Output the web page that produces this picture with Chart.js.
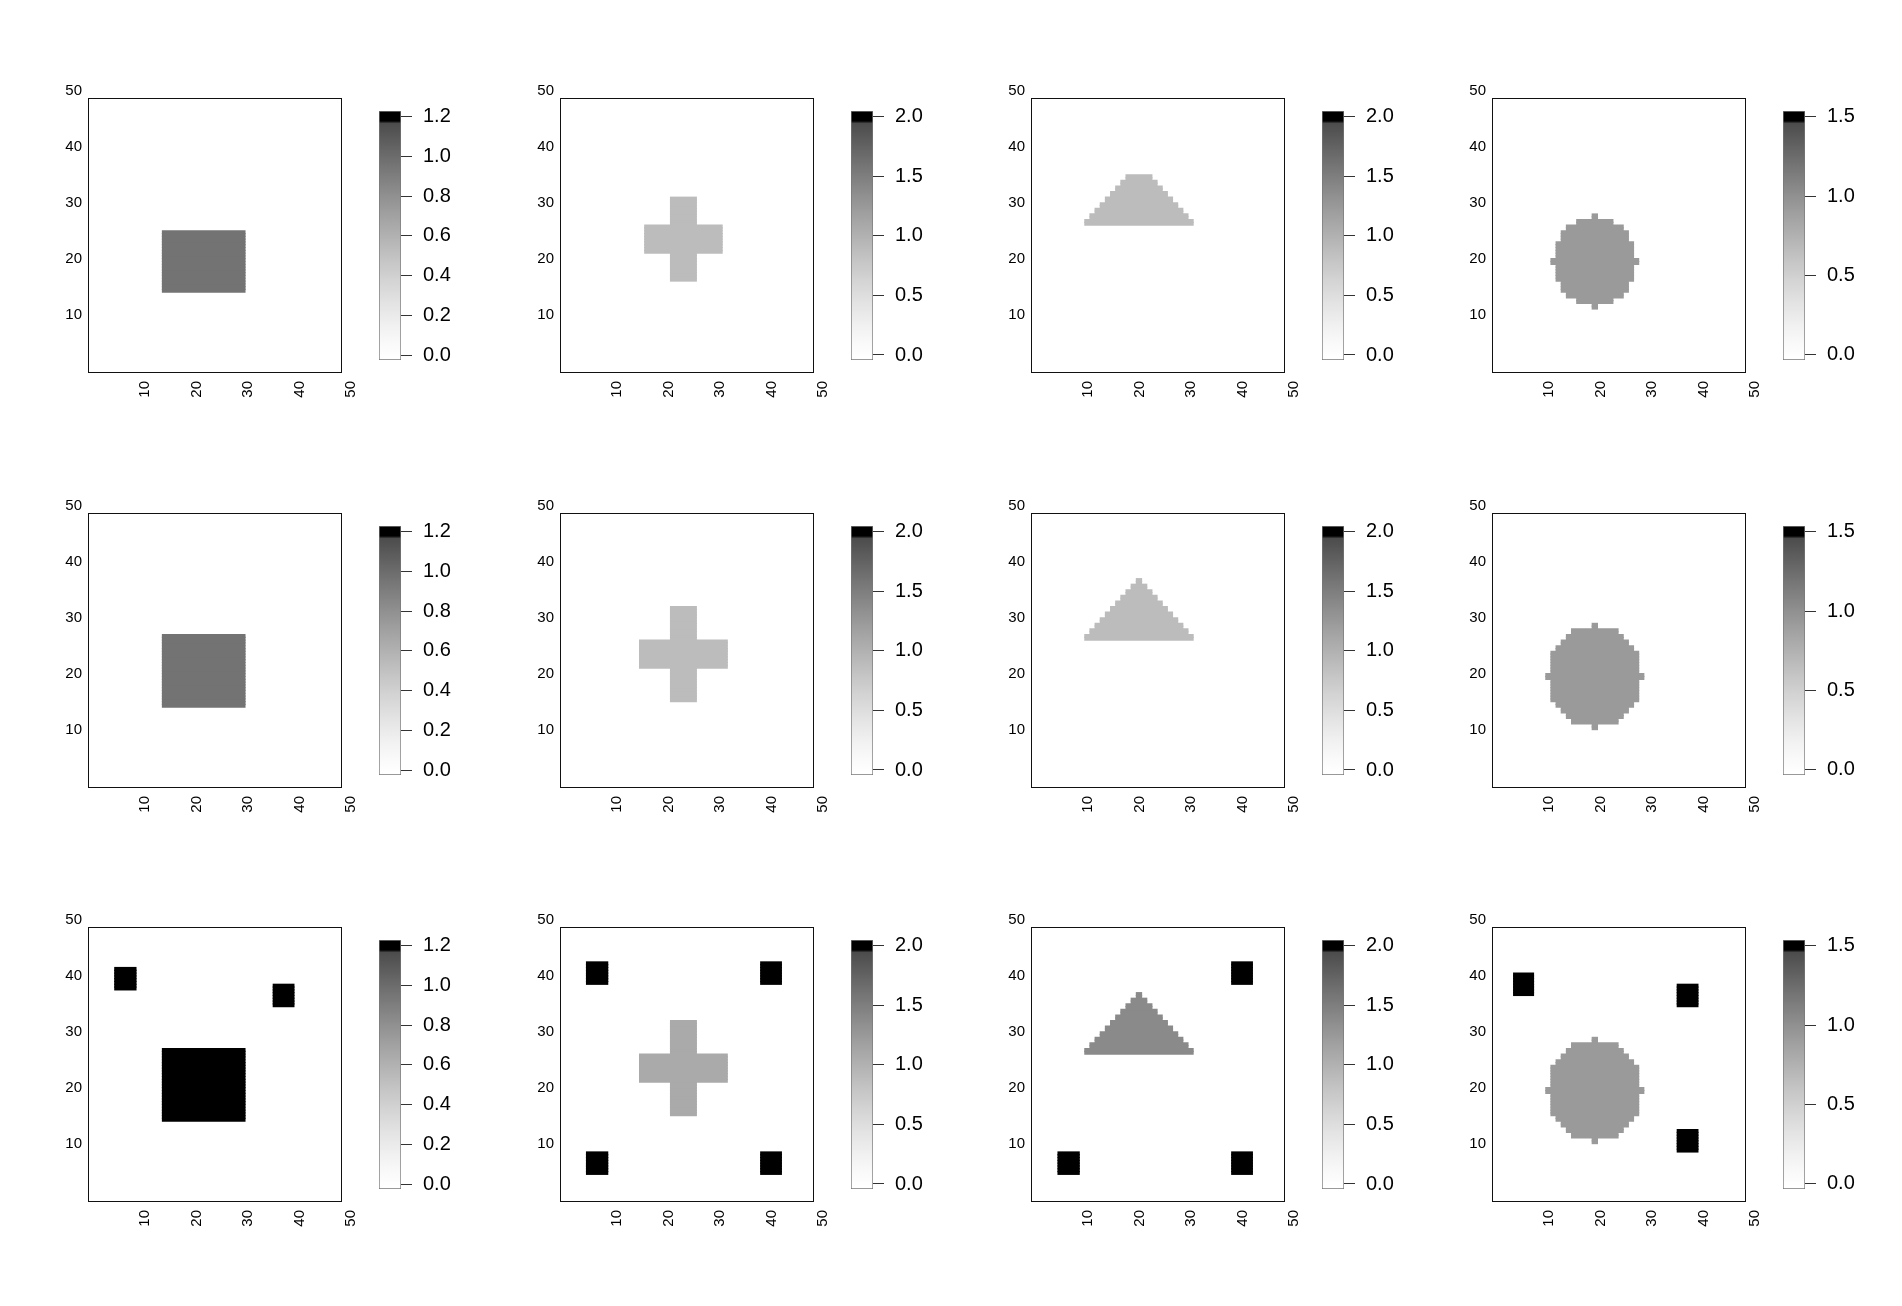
<!DOCTYPE html>
<html>
<head>
<meta charset="utf-8">
<script src="https://cdn.jsdelivr.net/npm/chart.js@4.4.1/dist/chart.umd.min.js"></script>
<style>
  html, body { margin: 0; padding: 0; background: #fff; }
  body { width: 1902px; height: 1306px; position: relative; overflow: hidden; }
  canvas { position: absolute; }
</style>
</head>
<body>
<script>
// ---- data ----
const axisTicks = [10, 20, 30, 40, 50];

// colour scale range and ticks, one per column
const zRange = [[-0.025, 1.228], [-0.042, 2.047], [-0.042, 2.047], [-0.032, 1.535]];
const zTicks = [
  [0, 0.2, 0.4, 0.6, 0.8, 1.0, 1.2],
  [0, 0.5, 1.0, 1.5, 2.0],
  [0, 0.5, 1.0, 1.5, 2.0],
  [0, 0.5, 1.0, 1.5]
];

// rectangles: [x0, x1, y0, y1] (cell edges)
const boxShort = [[14, 30, 14, 25]];
const boxTall = [[14, 30, 14, 27]];
const crossSmall = [[21, 26, 16, 31], [16, 31, 21, 26]];
const crossLarge = [[21, 26, 15, 32], [15, 32, 21, 26]];

// row runs: [y, x0, x1] (one cell tall)
const trapezoidRuns = [[26, 10, 31], [27, 11, 30], [28, 12, 29], [29, 13, 28], [30, 14, 27],
  [31, 15, 26], [32, 16, 25], [33, 17, 24], [34, 18, 23]];
const triangleRuns = [[26, 10, 31], [27, 11, 30], [28, 12, 29], [29, 13, 28], [30, 14, 27],
  [31, 15, 26], [32, 16, 25], [33, 17, 24], [34, 18, 23], [35, 19, 22], [36, 20, 21]];
const discSmallRuns = [[11, 19, 20], [12, 16, 23], [13, 14, 25], [14, 13, 26], [15, 13, 26],
  [16, 12, 27], [17, 12, 27], [18, 12, 27], [19, 11, 28], [20, 12, 27], [21, 12, 27],
  [22, 12, 27], [23, 13, 26], [24, 13, 26], [25, 14, 25], [26, 16, 23], [27, 19, 20]];
const discLargeRuns = [[10, 19, 20], [11, 15, 24], [12, 14, 25], [13, 13, 26], [14, 12, 27],
  [15, 11, 28], [16, 11, 28], [17, 11, 28], [18, 11, 28], [19, 10, 29], [20, 11, 28],
  [21, 11, 28], [22, 11, 28], [23, 11, 28], [24, 12, 27], [25, 13, 26], [26, 14, 25],
  [27, 15, 24], [28, 19, 20]];

// black spots in the bottom row
const spotsC1 = [[4.75, 8.85, 37.5, 41.5], [35.5, 39.5, 34.5, 38.5]];
const spotsC2 = [[4.7, 8.8, 38.5, 42.5], [38.5, 42.5, 38.5, 42.5], [4.7, 8.8, 4.5, 8.5], [38.5, 42.5, 4.5, 8.5]];
const spotsC3 = [[38.5, 42.5, 38.5, 42.5], [4.8, 8.9, 4.5, 8.5], [38.5, 42.5, 4.5, 8.5]];
const spotsC4 = [[3.75, 7.6, 36.5, 40.5], [35.5, 39.5, 34.5, 38.5], [35.5, 39.5, 8.5, 12.5]];

// shape level per panel (rows x columns) and spot level per column
const shapeValues = [
  [0.96, 0.89, 0.89, 0.93],
  [0.96, 0.89, 0.89, 0.93],
  [1.2, 1.08, 1.39, 0.93]
];
const spotValues = [1.2, 2.0, 2.0, 1.5];

const shapes = [
  [{ rects: boxShort }, { rects: crossSmall }, { runs: trapezoidRuns }, { runs: discSmallRuns }],
  [{ rects: boxTall }, { rects: crossLarge }, { runs: triangleRuns }, { runs: discLargeRuns }],
  [{ rects: boxTall, spots: spotsC1 }, { rects: crossLarge, spots: spotsC2 },
   { runs: triangleRuns, spots: spotsC3 }, { runs: discLargeRuns, spots: spotsC4 }]
];

// ---- layout ----
const boxLeft = [88, 560, 1031, 1492];
const boxTop = [98, 513, 927];
const AX_MIN = -0.45, AX_FRAME = 48.8, AX_MAX = 50;
const FONT = "'Liberation Sans', Arial, Helvetica, sans-serif";

function grayFor(t) {
  if (t >= 0.96) return '#000';
  t = Math.max(0, t);
  const g = Math.round(255 * (1 - 0.75 * Math.pow(t, 1.3)));
  return `rgb(${g},${g},${g})`;
}

// split every rectangle into half-cell rows for the horizontal floating bars
function toBars(list, v) {
  const out = [];
  list.forEach(([x0, x1, y0, y1]) => {
    for (let y = y0; y < y1 - 0.01; y += 0.5) out.push({ x: [x0, x1], y: y + 0.25, v: v });
  });
  return out;
}

const framePlugin = {
  id: 'frame',
  afterDatasetsDraw(chart) {
    const { ctx, scales: { x, y } } = chart;
    const l = Math.round(x.getPixelForValue(AX_MIN)) + 0.5;
    const r = Math.round(x.getPixelForValue(AX_FRAME)) - 0.5;
    const t = Math.round(y.getPixelForValue(AX_FRAME)) + 0.5;
    const b = Math.round(y.getPixelForValue(AX_MIN)) - 0.5;
    ctx.save();
    ctx.strokeStyle = '#111';
    ctx.lineWidth = 1;
    ctx.strokeRect(l, t, r - l, b - t);
    ctx.restore();
  }
};

function addCanvas(left, top, w, h) {
  const c = document.createElement('canvas');
  c.width = w; c.height = h;
  c.style.left = left + 'px'; c.style.top = top + 'px';
  c.style.width = w + 'px'; c.style.height = h + 'px';
  document.body.appendChild(c);
  return c;
}

const setAxisTicks = s => { s.ticks = axisTicks.map(v => ({ value: v })); };
const fixX = s => { s.height = 44; s.paddingLeft = 0; s.paddingRight = 0; };
const fixY = w => s => { s.width = w; s.paddingTop = 0; s.paddingBottom = 0; };

shapes.forEach((rowShapes, r) => {
  rowShapes.forEach((shape, c) => {
    const [lo, hi] = zRange[c];
    let bars = [];
    if (shape.rects) bars = bars.concat(toBars(shape.rects, shapeValues[r][c]));
    if (shape.runs) bars = bars.concat(toBars(shape.runs.map(([y, x0, x1]) => [x0, x1, y, y + 1]), shapeValues[r][c]));
    if (shape.spots) bars = bars.concat(toBars(shape.spots, spotValues[c]));

    // image panel
    const canvas = addCanvas(boxLeft[c] - 44, boxTop[r] - 21, 318, 340);
    new Chart(canvas, {
      type: 'bar',
      data: {
        datasets: [{
          data: bars,
          backgroundColor: ctx => grayFor((ctx.raw.v - lo) / (hi - lo)),
          borderWidth: 0,
          inflateAmount: 0.6,
          barPercentage: 1,
          categoryPercentage: 1
        }]
      },
      options: {
        indexAxis: 'y',
        responsive: false,
        animation: false,
        events: [],
        layout: { padding: { top: 14, right: 14, left: 0, bottom: 0 } },
        plugins: { legend: { display: false }, tooltip: { enabled: false } },
        scales: {
          x: {
            type: 'linear', min: AX_MIN, max: AX_MAX,
            afterBuildTicks: setAxisTicks,
            afterFit: fixX,
            grid: { display: false, drawTicks: false },
            border: { display: false },
            ticks: { minRotation: 90, maxRotation: 90, padding: 8, labelOffset: 3, color: '#000',
              font: { family: FONT, size: 15 }, callback: v => String(v) }
          },
          y: {
            type: 'linear', offset: false, min: AX_MIN, max: AX_MAX,
            afterBuildTicks: setAxisTicks,
            afterFit: fixY(44),
            grid: { display: false, drawTicks: false },
            border: { display: false },
            ticks: { padding: 6, color: '#000', font: { family: FONT, size: 15 }, callback: v => String(v) }
          }
        }
      },
      plugins: [framePlugin]
    });

    // colour bar
    const cb = addCanvas(boxLeft[c] + 254 + 37, boxTop[r] + 13 - 14, 92, 277);
    new Chart(cb, {
      type: 'bar',
      data: {
        labels: [''],
        datasets: [{
          data: [[lo, hi]],
          backgroundColor: ctx => {
            const chart = ctx.chart;
            if (!chart.chartArea) return '#ccc';
            const ys = chart.scales.y;
            const grad = chart.ctx.createLinearGradient(0, ys.getPixelForValue(lo), 0, ys.getPixelForValue(hi));
            for (let i = 0; i <= 96; i++) grad.addColorStop(i / 100, grayFor(i / 100));
            grad.addColorStop(0.9605, '#000');
            grad.addColorStop(1, '#000');
            return grad;
          },
          borderColor: '#777',
          borderWidth: 1,
          borderSkipped: false,
          barPercentage: 1,
          categoryPercentage: 1
        }]
      },
      options: {
        responsive: false,
        animation: false,
        events: [],
        layout: { padding: { top: 14, bottom: 14, left: 0, right: 0 } },
        plugins: { legend: { display: false }, tooltip: { enabled: false } },
        scales: {
          x: { display: false },
          y: {
            position: 'right', min: lo, max: hi,
            afterBuildTicks: s => { s.ticks = zTicks[c].map(v => ({ value: v })); },
            afterFit: fixY(70),
            grid: { drawOnChartArea: false, drawTicks: true, tickLength: 11, color: '#333' },
            border: { display: false },
            ticks: { padding: 11, color: '#000', font: { family: FONT, size: 20 }, callback: v => v.toFixed(1) }
          }
        }
      }
    });
  });
});
</script>
</body>
</html>
